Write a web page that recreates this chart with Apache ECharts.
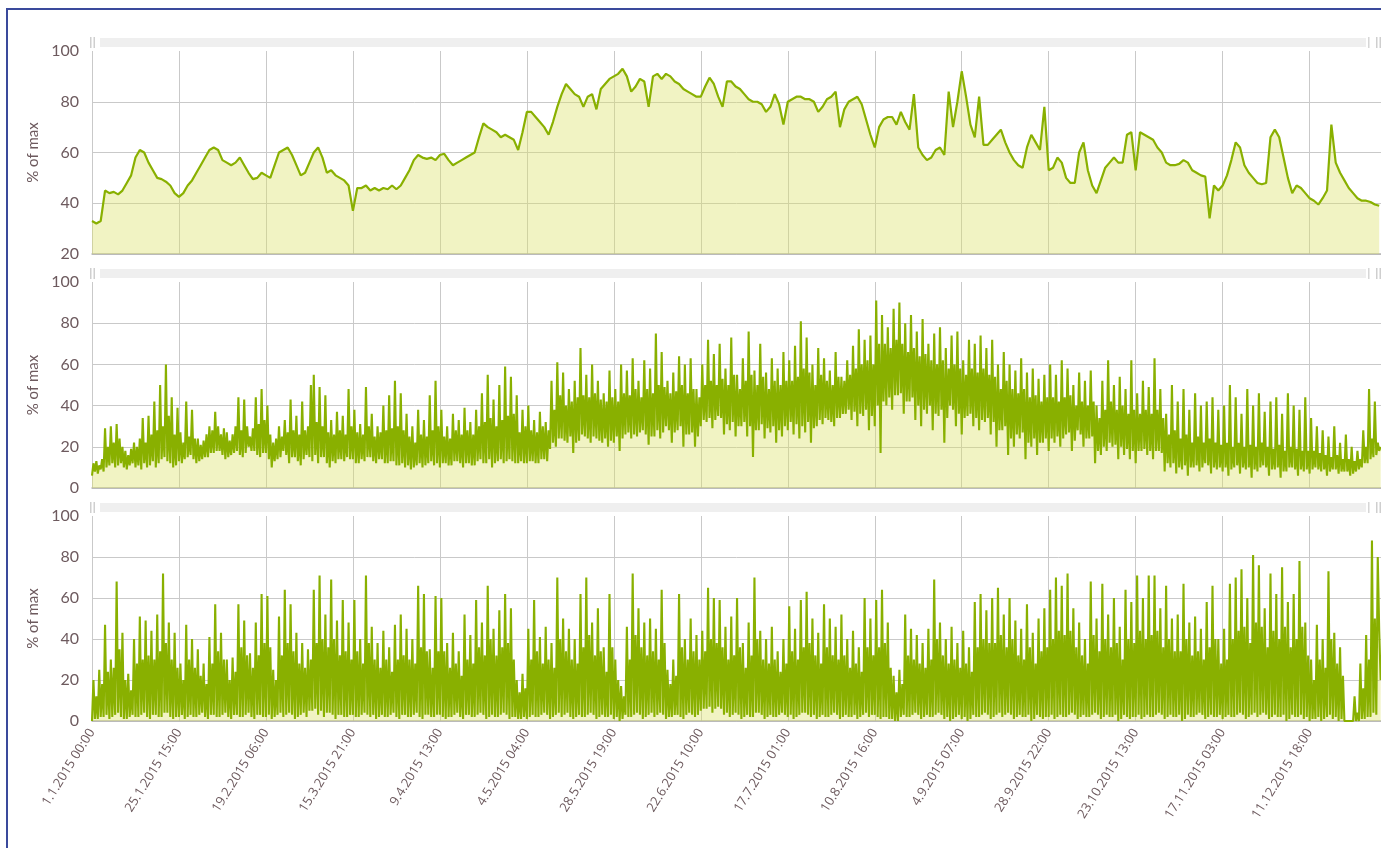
<!DOCTYPE html>
<html>
<head>
<meta charset="utf-8">
<script src="https://cdn.jsdelivr.net/npm/echarts@6/dist/echarts.min.js"></script>
<style>
  html, body { margin: 0; padding: 0; background: #fff; }
  #frame { position: absolute; left: 6px; top: 8px; width: 1500px; height: 1000px;
           border-left: 2px solid #3a4a9c; border-top: 2px solid #3a4a9c; }
  #chart { position: absolute; left: 0; top: 0; width: 1381px; height: 848px; }
</style>
</head>
<body>
<div id="frame"></div>
<div id="chart"></div>
<script>
  // x axis is hours since 1.1.2015 00:00, one label every 591 h
  const tickLabels = ['1.1.2015 00:00', '25.1.2015 15:00', '19.2.2015 06:00', '15.3.2015 21:00',
    '9.4.2015 13:00', '4.5.2015 04:00', '28.5.2015 19:00', '22.6.2015 10:00', '17.7.2015 01:00',
    '10.8.2015 16:00', '4.9.2015 07:00', '28.9.2015 22:00', '23.10.2015 13:00', '17.11.2015 03:00',
    '11.12.2015 18:00'];
  const TICK_HOURS = 591;
  const LAST_HOUR = 8759;

  // top panel, one value every 591/20 h
  const topValues = [
    33,32,33,45,44,44.5,43.5,45,48,51,
    58,61,60,56,53,50,49.5,48.5,47,44,
    42.5,44,47,49,52,55,58,61,62,61,
    57,56,55,56,58,55,52,49.5,50,52,
    51,50,55,60,61,62,59,55,51,52,
    56,60,62,58,52,53,51,50,49,47,
    37,46,46,47,45,46,45,46,45.5,47,
    45.5,47,50,53,57,59,58,57.5,58,57,
    59,59.5,57,55,56,57,58,59,60,66,
    71.5,70,69,68,66,67,66,65,61,68,
    76,76,74,72,70,67,72,78,83,87,
    85,83,82,78,82,83,77,85,87,89,
    90,91,93,90,84,86,89,88,78,90,
    91,89,91,90,88,87,85,84,83,82,
    82,86,89.5,87,82,78,88,88,86,85,
    83,81,80,80,79,76,78,83,79,71,
    80,81,82,82,81,81,80,76,78,81,
    82,84,70,77,80,81,82,79,73,67,
    62,70,73,74,74,71,76,72,69,83,
    62,59,57,58,61,62,59,84,70,80,
    92,82,71,66,82,63,63,65,67,69,
    64,60,57,55,54,62,67,64,61,78,
    53,54,58,56,50,48,48,60,64,53,
    47,44,49,54,56,58,56,56,67,68,
    53,68,67,66,65,62,60,56,55,55,
    55.5,57,56,53,52,51,50.5,34,47,45,
    47,51,57,64,62,55,52,50,48,47.5,
    48,66,69,66,58,50,44,47,46,44,
    42,41,39.5,42,45,71,56,52,49,46,
    44,42,41,41,40.5,39.5,39
  ];

  // middle panel, one value every 591/60 h (one row per label interval)
  const midValues = [
    6,12,8,13,7,11,9,14,8,29,10,20,11,30,12,22,10,31,11,24,12,20,10,18,9,16,11,19,12,22,10,20,11,24,9,34,12,22,10,35,11,26,13,42,10,28,12,50,14,30,15,60,13,35,12,44,10,26,11,39,
    13,27,12,22,14,42,15,25,16,38,14,24,12,24,13,21,14,23,15,26,15,30,17,28,17,37,18,30,18,26,16,29,14,27,15,23,16,26,17,30,18,44,16,28,15,43,17,30,20,25,18,29,18,44,16,31,15,48,17,33,
    17,40,14,26,10,22,13,24,14,30,15,25,18,33,16,27,12,43,15,28,15,35,13,26,11,42,14,28,16,30,15,50,13,55,16,32,12,49,15,30,15,45,12,27,10,33,13,26,12,37,14,28,14,35,13,26,15,48,14,30,
    14,38,12,27,12,31,14,26,13,49,15,30,15,36,13,25,12,30,14,27,14,40,12,28,12,45,13,29,13,52,11,30,11,46,12,28,10,36,11,25,9,30,10,22,11,38,12,26,10,33,11,25,12,45,13,28,11,52,12,30,
    10,38,12,25,12,30,11,24,11,36,13,28,13,33,12,26,10,39,12,28,12,32,11,26,11,38,13,30,14,46,12,32,12,55,14,34,10,43,12,30,13,50,14,33,12,59,13,35,14,54,13,36,12,45,12,27,13,38,12,30,
    12,40,13,28,13,33,12,27,12,37,14,30,14,32,13,28,19,52,22,38,20,61,24,45,24,56,23,40,22,48,25,42,17,52,22,44,23,68,26,45,25,55,24,44,22,60,25,46,24,52,23,43,22,46,24,42,20,57,23,44,
    22,48,25,42,18,60,24,46,26,57,27,45,24,63,26,48,25,52,27,44,28,62,26,48,21,58,25,46,25,75,28,50,24,66,27,49,30,52,28,46,22,56,27,47,28,64,30,50,20,60,26,46,26,63,27,48,20,48,25,44,
    30,60,33,50,32,72,34,52,29,65,33,50,35,70,34,53,26,58,31,50,28,73,32,55,25,55,30,48,30,63,32,52,25,76,30,55,15,57,28,50,28,70,31,54,24,56,29,48,27,63,30,52,22,58,28,50,25,66,30,52,
    28,62,32,52,26,69,31,54,24,81,30,58,27,73,32,56,22,60,29,50,30,68,33,55,31,63,34,52,33,57,32,50,30,66,34,54,34,54,36,52,36,62,38,55,33,69,37,58,30,77,36,60,35,72,38,62,28,74,35,60,
    30,91,40,70,17,84,42,70,40,78,44,68,38,87,45,72,45,90,46,70,36,80,42,66,42,84,44,68,33,76,40,64,30,82,38,65,36,70,40,62,28,75,36,60,35,78,38,62,22,68,34,58,40,74,38,60,30,76,36,58,
    26,62,34,55,35,72,36,58,30,70,34,56,28,74,33,58,32,68,34,55,26,72,32,54,20,60,28,48,28,66,30,52,16,60,24,48,20,57,26,46,24,63,27,48,14,56,22,44,20,58,24,45,16,53,22,42,22,55,24,44,
    18,60,24,44,22,55,25,42,20,62,24,44,26,58,27,45,18,50,23,40,28,56,26,42,20,52,24,40,24,57,25,42,12,40,18,34,16,52,20,38,18,62,22,42,20,50,21,38,14,54,20,40,16,48,19,36,14,62,18,38,
    12,46,18,36,18,52,19,38,16,49,18,36,14,63,18,38,18,48,17,34,8,36,12,26,10,50,12,28,7,42,10,24,9,48,11,26,6,38,10,22,10,46,11,25,8,40,10,22,12,42,11,24,7,44,10,22,9,38,10,21,
    8,40,10,22,6,50,9,20,10,44,11,22,7,36,10,20,9,48,10,21,5,40,9,20,8,46,10,22,11,37,10,20,6,42,9,19,9,44,10,21,5,36,8,18,8,46,10,20,10,40,9,19,6,38,9,18,8,44,9,18,
    7,34,9,18,10,30,9,17,8,28,9,16,6,25,8,15,9,30,9,16,7,22,8,14,8,26,8,14,6,20,7,13,8,18,9,14,10,28,12,20,12,48,14,24,15,42,16,22,18,20
  ];

  // bottom panel, same spacing as the middle one
  const lowValues = [
    0,20,1,12,1,25,2,18,2,47,3,24,1,30,2,26,3,68,4,35,2,43,1,20,1,23,2,15,3,40,2,28,2,51,3,30,4,49,2,32,1,44,3,30,3,52,2,34,2,72,4,38,4,48,2,30,1,43,2,26,
    2,28,3,20,1,47,2,30,3,40,2,26,2,35,3,22,4,28,2,18,1,41,3,28,3,57,2,34,2,43,3,30,4,30,2,20,1,31,3,24,3,57,2,36,2,49,3,32,4,33,2,26,1,48,3,32,3,62,2,38,
    2,61,3,36,1,25,2,20,3,51,4,32,2,64,3,38,4,57,3,34,1,43,2,28,3,38,4,26,2,35,5,30,5,64,6,38,3,71,5,40,2,52,4,36,4,69,3,40,1,49,3,32,3,59,2,34,2,48,3,30,
    3,59,2,34,2,40,3,28,4,71,3,38,2,46,3,30,1,38,2,26,3,44,2,30,2,36,3,24,4,47,2,30,1,52,3,32,3,45,2,30,2,40,3,28,4,66,2,36,1,62,3,34,3,35,2,26,2,61,3,34,
    3,60,2,34,1,38,2,26,2,43,3,28,4,34,2,22,1,52,3,30,3,42,2,28,2,59,3,36,4,48,3,32,1,66,2,40,3,45,2,32,2,54,3,36,4,62,3,38,1,55,2,30,2,20,1,14,1,23,2,16,
    1,45,2,30,3,59,2,34,2,41,3,28,4,46,3,30,1,38,2,26,3,70,4,40,2,50,3,34,4,45,2,30,1,40,2,28,3,62,2,36,2,70,3,42,4,48,3,32,1,55,2,34,3,36,2,24,2,62,3,36,
    1,30,2,20,0,17,1,12,3,46,2,30,2,72,3,42,4,55,3,36,1,48,2,32,3,50,4,34,2,45,3,30,4,64,3,38,1,25,2,18,2,30,3,22,3,62,2,36,1,40,3,30,4,50,3,34,2,42,3,30,
    5,44,6,34,6,65,7,40,4,60,6,38,7,59,6,36,3,46,4,30,2,51,3,32,4,60,3,36,1,38,2,26,3,48,2,32,2,70,4,40,4,44,3,30,1,40,2,28,3,46,2,30,2,34,3,24,4,40,3,28,
    2,56,3,34,1,45,2,30,3,59,4,36,4,63,3,38,2,50,3,32,1,43,2,28,3,57,2,36,2,50,3,32,4,46,3,30,1,52,2,32,3,40,2,26,2,44,3,28,1,36,2,24,3,60,4,36,2,50,3,32,
    3,59,2,36,1,64,2,38,2,48,1,26,1,22,0,14,0,25,2,18,3,52,2,32,2,45,3,30,4,42,3,28,1,38,2,26,3,45,2,30,2,69,3,40,4,48,3,32,1,40,2,28,0,46,1,30,2,38,3,26,
    1,44,2,28,0,36,1,24,3,58,2,36,2,62,3,40,4,54,3,38,1,60,2,38,3,65,4,42,2,52,3,36,4,60,3,40,1,49,2,32,3,45,2,30,2,57,3,36,0,43,1,28,3,50,2,34,1,55,2,36,
    2,64,3,40,1,70,2,44,3,66,2,42,2,72,3,44,4,55,3,36,1,48,2,32,3,40,2,28,2,68,3,42,4,50,3,34,1,67,2,40,3,52,2,36,2,60,3,38,0,46,1,30,3,64,2,40,1,58,2,38,
    2,71,3,44,1,60,2,40,3,71,2,42,2,71,3,44,4,55,3,36,1,66,2,40,3,50,2,34,2,52,3,34,0,67,1,40,3,48,2,32,2,51,3,34,4,45,3,30,1,58,2,36,3,66,2,40,2,40,3,28,
    1,45,2,30,3,67,2,40,2,70,3,44,4,74,3,46,1,60,2,38,3,81,4,48,2,76,3,46,4,55,3,36,1,72,2,44,3,62,2,40,2,75,3,46,0,58,1,36,3,62,2,40,2,78,3,46,1,48,2,32,
    0,30,1,20,1,47,2,30,0,40,1,26,2,73,3,40,1,43,2,28,0,36,1,22,0,0,0,0,0,0,0,12,0,4,0,28,1,16,1,42,2,30,2,88,4,50,3,80,44,20
  ];

  const panelYMin = [20, 0, 0];

  const TEXT = '#6d5a5e';
  const GRIDLINE = '#c9c9c9';
  const LINE = '#89b000';
  const FILL = 'rgba(218,224,100,0.55)';

  const panels = [
    {top: 51, height: 203, values: topValues, step: TICK_HOURS / 20, width: 2.2},
    {top: 282, height: 206, values: midValues, step: TICK_HOURS / 60, width: 2.1},
    {top: 516, height: 205, values: lowValues, step: TICK_HOURS / 60, width: 2.1}
  ];

  function toPoints(values, step){
    return values.map((v, i) => [Math.round(i * step * 100) / 100, v]);
  }

  const chart = echarts.init(document.getElementById('chart'), null, {renderer: 'canvas'});

  // grey strips above each panel (navigator bars in the original)
  const graphics = [];
  panels.forEach(p => {
    const y = p.top - 13;
    graphics.push({type: 'rect', shape: {x: 100, y: y, width: 1266, height: 9},
      style: {fill: '#efefef'}, silent: true});
    graphics.push({type: 'rect', shape: {x: 90, y: y - 1, width: 1.5, height: 11}, style: {fill: '#cfcfcf'}});
    graphics.push({type: 'rect', shape: {x: 93.5, y: y - 1, width: 1.5, height: 11}, style: {fill: '#cfcfcf'}});
    graphics.push({type: 'rect', shape: {x: 1368, y: y - 1, width: 1.5, height: 11}, style: {fill: '#d6d6d6'}});
    graphics.push({type: 'rect', shape: {x: 1376, y: y - 1, width: 1.5, height: 11}, style: {fill: '#cfcfcf'}});
    graphics.push({type: 'rect', shape: {x: 1379.5, y: y - 1, width: 1.5, height: 11}, style: {fill: '#cfcfcf'}});
  });

  chart.setOption({
    animation: false,
    graphic: graphics,
    grid: panels.map(p => ({left: 92, right: 0, top: p.top, height: p.height})),
    xAxis: panels.map((p, i) => ({
      type: 'value',
      gridIndex: i,
      min: 0,
      max: LAST_HOUR,
      interval: TICK_HOURS,
      axisLine: {show: true, lineStyle: {color: '#b5b5b5', width: 1.5}},
      axisTick: {show: false},
      splitLine: {show: true, showMaxLine: false, lineStyle: {color: GRIDLINE, width: 1}},
      axisLabel: {
        show: i === 2,
        rotate: 58,
        margin: 9,
        color: TEXT,
        fontSize: 13,
        fontFamily: 'Open Sans',
        formatter: v => tickLabels[Math.round(v / TICK_HOURS)] || '',
        showMaxLabel: false
      }
    })),
    yAxis: panels.map((p, i) => ({
      type: 'value',
      gridIndex: i,
      min: panelYMin[i],
      max: 100,
      interval: 20,
      name: '% of max',
      nameLocation: 'middle',
      nameGap: 38,
      nameTextStyle: {color: TEXT, fontSize: 15, fontFamily: 'Lato'},
      axisLine: {show: false},
      axisTick: {show: false},
      splitLine: {show: true, showMaxLine: false, lineStyle: {color: GRIDLINE, width: 1}},
      axisLabel: {color: TEXT, fontSize: 16, fontFamily: 'Lato', margin: 13}
    })),
    series: panels.map((p, i) => ({
      type: 'line',
      xAxisIndex: i,
      yAxisIndex: i,
      symbol: 'none',
      showSymbol: false,
      sampling: null,
      lineStyle: {color: LINE, width: p.width},
      areaStyle: {color: FILL, origin: 'start'},
      data: toPoints(p.values, p.step)
    }))
  });
</script>
</body>
</html>
